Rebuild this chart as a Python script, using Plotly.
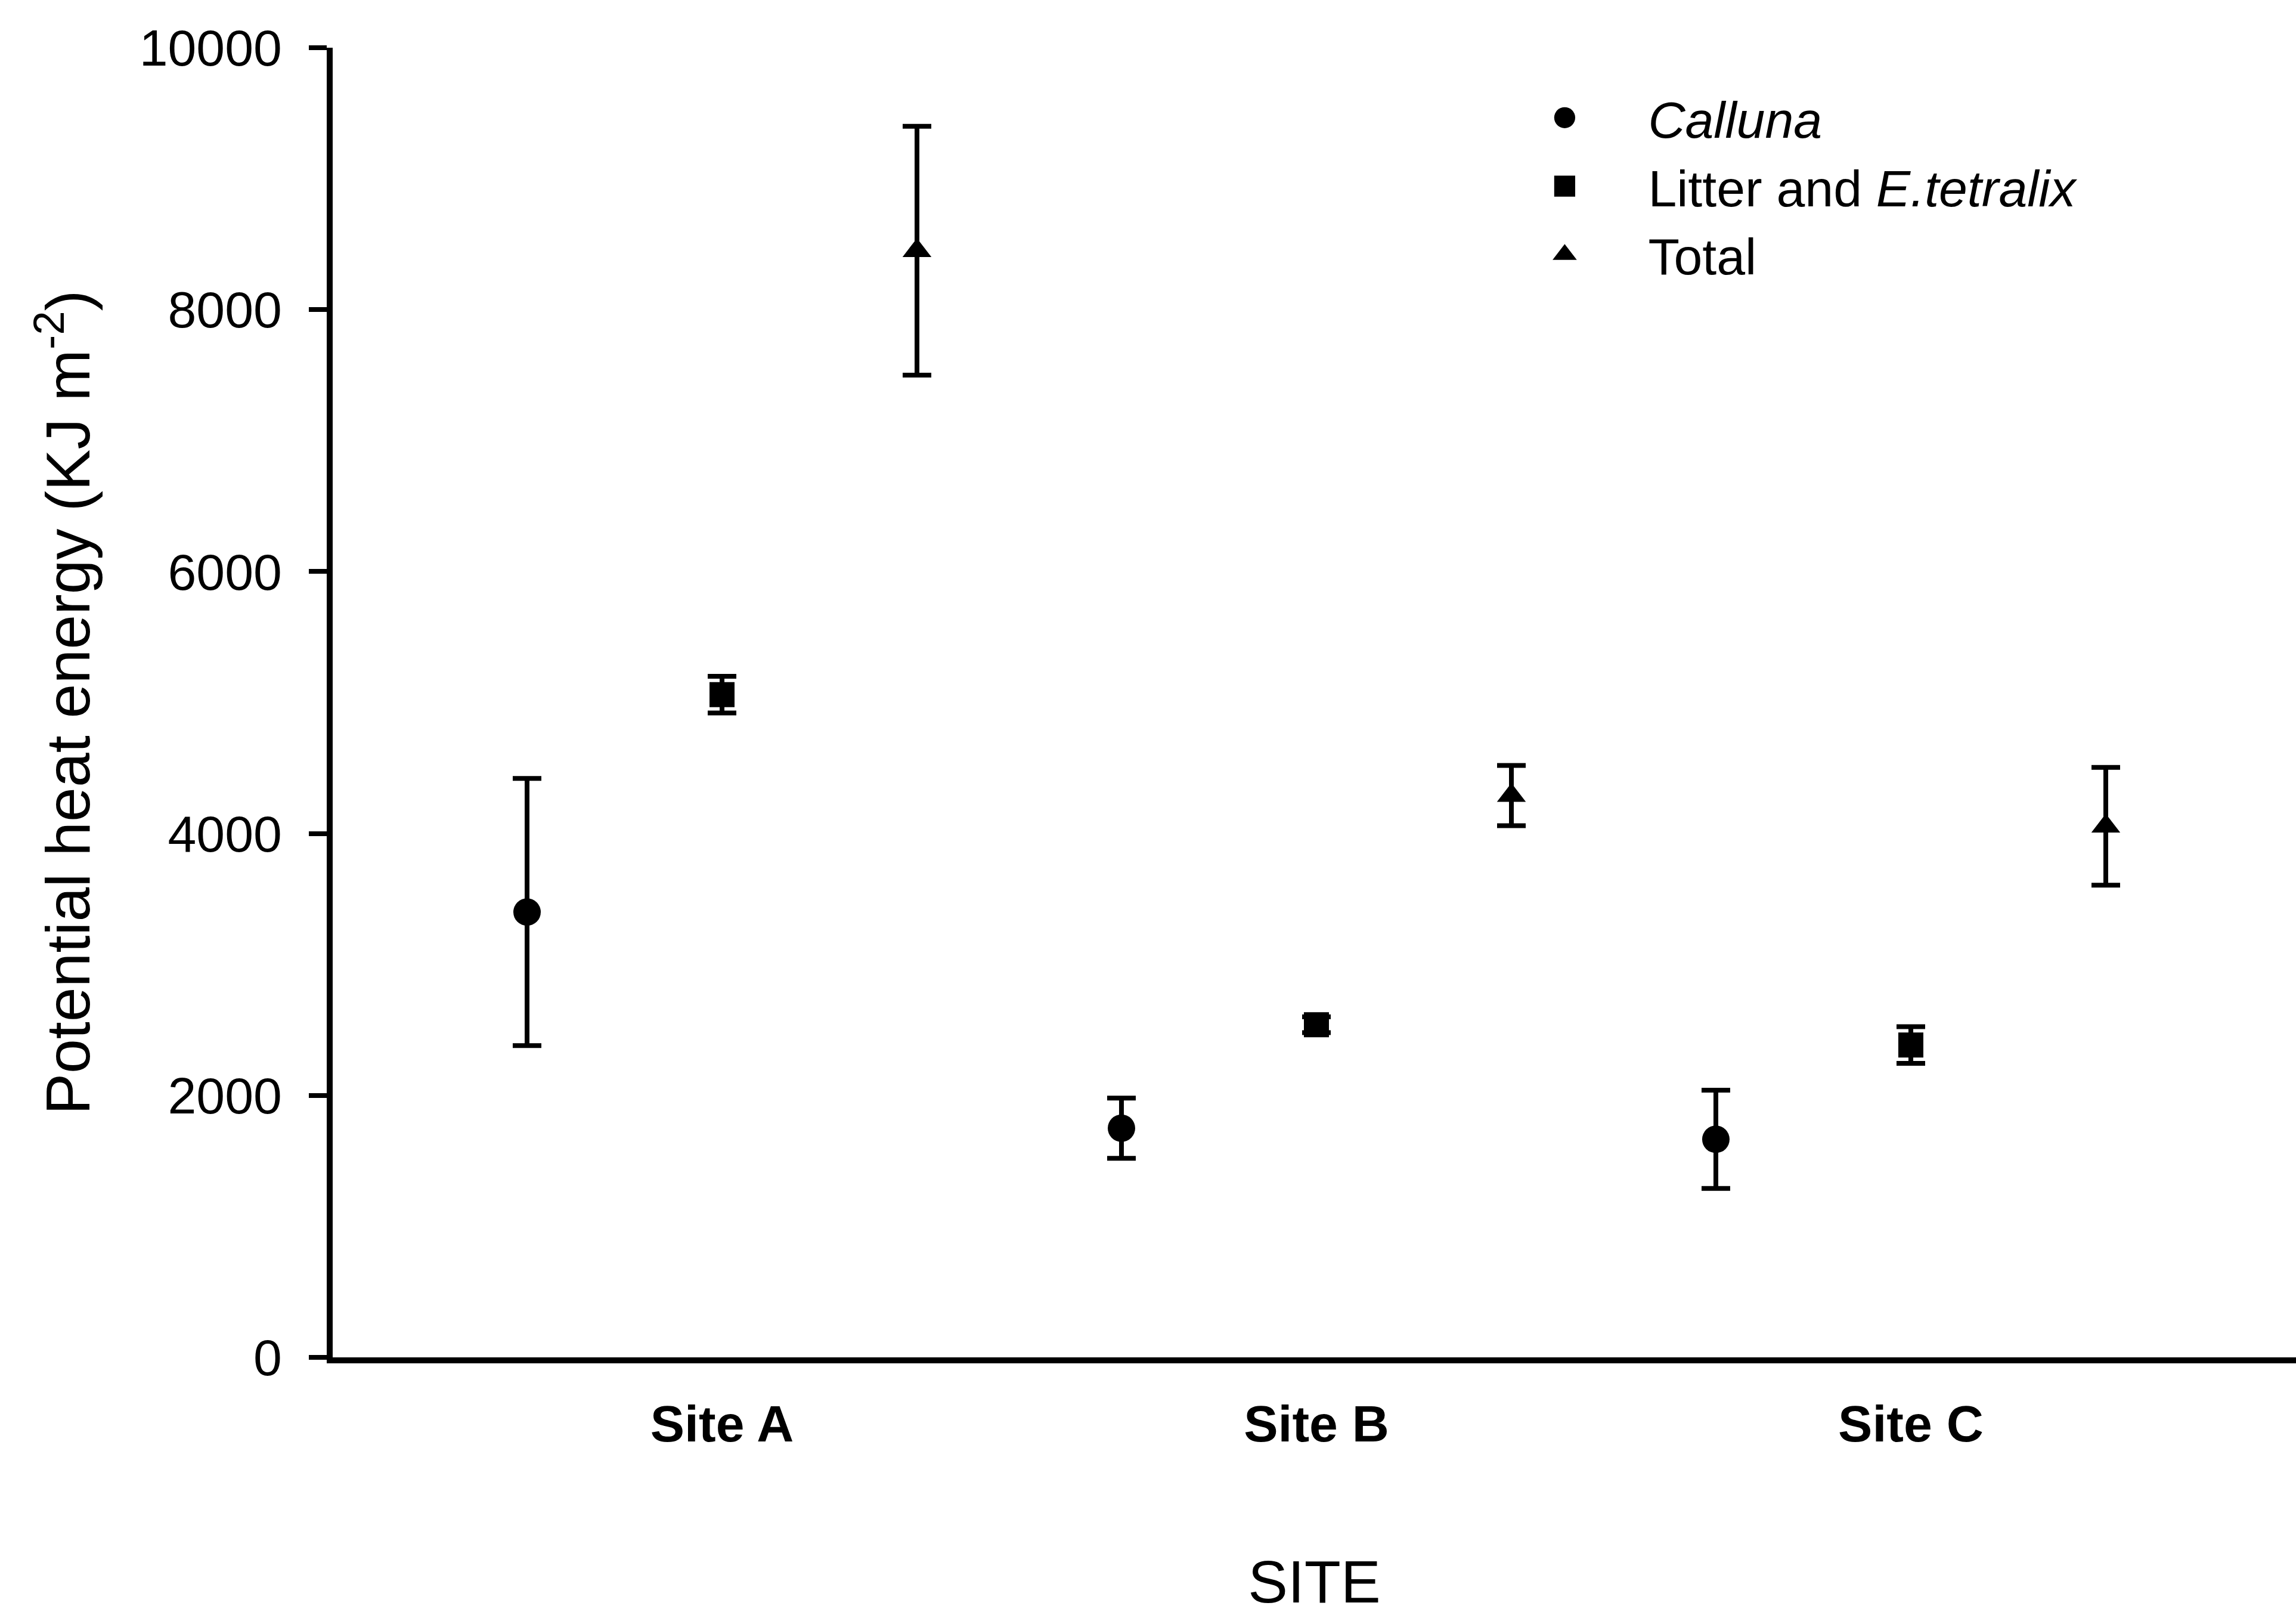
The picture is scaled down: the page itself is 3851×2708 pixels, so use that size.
import plotly.graph_objects as go

# Sites along the x axis
sites = ["Site A", "Site B", "Site C"]

# Potential heat energy (KJ m-2): means and error half-widths per fuel component
calluna = [3400, 1750, 1665]
calluna_err = [1020, 230, 375]

litter = [5060, 2540, 2385]
litter_err = [140, 60, 140]

total = [8450, 4290, 4055]
total_err = [950, 230, 450]

y_ticks = [0, 2000, 4000, 6000, 8000, 10000]

FONT = "Liberation Sans, Arial, Helvetica, sans-serif"
BLACK = "#000000"


def series(name, values, errors, symbol, size):
    return go.Scatter(
        x=sites,
        y=values,
        name=name,
        mode="markers",
        marker=dict(symbol=symbol, size=size, color=BLACK, line=dict(width=0)),
        error_y=dict(type="data", array=errors, visible=True,
                     color=BLACK, thickness=8, width=24),
        offsetgroup=name,
    )


fig = go.Figure()
fig.add_trace(series("<i>Calluna</i>", calluna, calluna_err, "circle", 46))
fig.add_trace(series("Litter and <i>E.tetralix</i>", litter, litter_err, "square", 42))
fig.add_trace(series("Total", total, total_err, "triangle-up", 42))

fig.update_layout(
    width=3851,
    height=2708,
    margin=dict(l=558, r=0, t=80, b=432, autoexpand=False),
    paper_bgcolor="white",
    plot_bgcolor="white",
    font=dict(family=FONT, size=86, color=BLACK),
    scattermode="group",
    scattergap=0.016,
    showlegend=True,
    legend=dict(
        x=0.585, y=0.975, xanchor="left", yanchor="top",
        bgcolor="rgba(0,0,0,0)", borderwidth=0,
        font=dict(family=FONT, size=86, color=BLACK),
        itemwidth=270,
        tracegroupgap=0,
    ),
)

fig.update_xaxes(
    type="category",
    range=[-0.655, 2.648],
    showline=True, linecolor=BLACK, linewidth=10,
    ticks="", showgrid=False, zeroline=False,
    tickfont=dict(family=FONT, size=86, color=BLACK, weight="bold"),
    ticklabelstandoff=28,
    title=dict(text="SITE", font=dict(family=FONT, size=100, color=BLACK), standoff=196),
    automargin=False,
)

fig.update_yaxes(
    range=[0, 10000],
    tickvals=y_ticks,
    ticktext=[str(v) for v in y_ticks],
    showline=True, linecolor=BLACK, linewidth=10,
    ticks="outside", ticklen=30, tickwidth=8, tickcolor=BLACK,
    showgrid=False, zeroline=False,
    tickfont=dict(family=FONT, size=86, color=BLACK),
    ticklabelstandoff=28,
    title=dict(text="Potential heat energy (KJ m<sup>-2</sup>)",
               font=dict(family=FONT, size=104, color=BLACK), standoff=52),
    automargin=False,
)

# Enlarge the legend keys so they read at the same scale as the plotted markers
post = """
var gd = document.getElementById('{plot_id}');
function growKeys() {
  gd.querySelectorAll('.legend .legendpoints path.scatterpts').forEach(function (p) {
    var t = p.getAttribute('transform') || '';
    if (t.indexOf('scale') < 0) { p.setAttribute('transform', t + ' scale(2.2)'); }
  });
}
growKeys();
gd.on('plotly_afterplot', growKeys);
"""

fig.write_html("out.html", post_script=post)
